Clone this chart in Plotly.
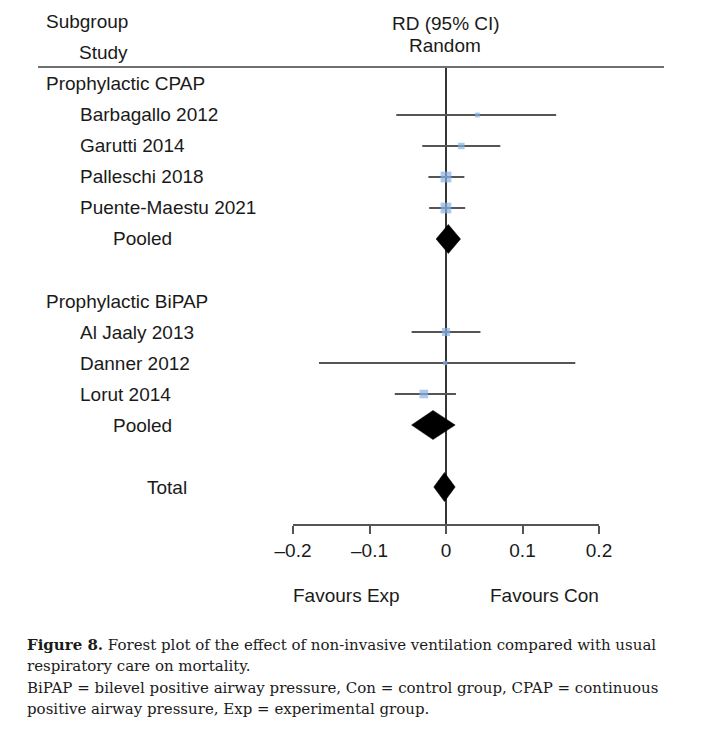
import plotly.graph_objects as go

# ---------------- data ----------------
group_labels = ["Prophylactic CPAP", "Prophylactic BiPAP"]
group_studies = [
    ["Barbagallo 2012", "Garutti 2014", "Palleschi 2018", "Puente-Maestu 2021"],
    ["Al Jaaly 2013", "Danner 2012", "Lorut 2014"],
]
study_rd = [[0.041, 0.020, 0.000, 0.000], [0.000, -0.001, -0.029]]
study_lo = [[-0.065, -0.031, -0.023, -0.022], [-0.045, -0.166, -0.067]]
study_hi = [[0.144, 0.071, 0.024, 0.025], [0.045, 0.169, 0.013]]
study_weight = [[4.5, 8, 22, 22], [12.5, 3.5, 14]]

pooled_rd = [0.003, -0.017]
pooled_lo = [-0.013, -0.045]
pooled_hi = [0.019, 0.012]

total_label = "Total"
total_rd = -0.002
total_lo = -0.016
total_hi = 0.012

tick_vals = [-0.2, -0.1, 0, 0.1, 0.2]
tick_text = ["\u20130.2", "\u20130.1", "0", "0.1", "0.2"]

# ---------------- layout helpers ----------------
W, H = 720, 742
FONT = "Liberation Sans, Arial, sans-serif"
TXT = "#1a1a1a"


def px(x):
    return x / W


def py(y):
    return 1 - y / H


# build rows
rows = []  # (label, kind, group index, item index, row)
r = 0
for g, glabel in enumerate(group_labels):
    rows.append((glabel, "group", g, None, r)); r += 1
    for i, s in enumerate(group_studies[g]):
        rows.append((s, "study", g, i, r)); r += 1
    rows.append(("Pooled", "pooled", g, None, r)); r += 1
    r += 1  # blank row
rows.append((total_label, "total", None, None, r))

fig = go.Figure()

# study points with CIs
xs, ys, ep, em, sizes = [], [], [], [], []
for label, kind, g, i, row in rows:
    if kind == "study":
        e = study_rd[g][i]
        xs.append(e)
        ys.append(row)
        ep.append(study_hi[g][i] - e)
        em.append(e - study_lo[g][i])
        sizes.append(2.3 * study_weight[g][i] ** 0.5)

fig.add_trace(go.Scatter(
    x=xs, y=ys, mode="markers",
    marker=dict(symbol="square", size=sizes, color="#88b2e6", line=dict(width=0)),
    error_x=dict(type="data", symmetric=False, array=ep, arrayminus=em,
                 thickness=1.9, width=0, color="#555555"),
    hoverinfo="skip", showlegend=False,
))

# diamonds
HALF = 0.47


def diamond(est, lo, hi, row, half):
    fig.add_trace(go.Scatter(
        x=[lo, est, hi, est, lo], y=[row, row - half, row, row + half, row],
        mode="lines", fill="toself", fillcolor="black",
        line=dict(width=0.5, color="black"), hoverinfo="skip", showlegend=False,
    ))


for label, kind, g, i, row in rows:
    if kind == "pooled":
        diamond(pooled_rd[g], pooled_lo[g], pooled_hi[g], row, HALF)
    elif kind == "total":
        diamond(total_rd, total_lo, total_hi, row, HALF)

# text labels
indent = {"group": 44, "study": 78, "pooled": 111, "total": 145}
annotations = []
for label, kind, g, i, row in rows:
    annotations.append(dict(
        x=px(indent[kind]), xref="paper", y=row, yref="y",
        text=label, showarrow=False, xanchor="left", yanchor="middle",
        font=dict(family=FONT, size=19, color=TXT),
    ))

# headers
for text, x, y, anchor in [("Subgroup", 44, 22, "left"), ("Study", 77, 52, "left"),
                           ("RD (95% CI)", 446, 23, "center"), ("Random", 445, 46, "center")]:
    annotations.append(dict(x=px(x), xref="paper", y=py(y), yref="paper", text=text,
                            showarrow=False, xanchor=anchor, yanchor="middle",
                            font=dict(family=FONT, size=19, color=TXT)))

# favours
for text, x in [("Favours Exp", 346), ("Favours Con", 544)]:
    annotations.append(dict(x=px(x), xref="paper", y=py(595), yref="paper", text=text,
                            showarrow=False, xanchor="center", yanchor="middle",
                            font=dict(family=FONT, size=19, color=TXT)))

# caption
CAP = "DejaVu Serif, serif"
cap_lines = [
    "<b>Figure 8.</b> Forest plot of the effect of non-invasive ventilation compared with usual",
    "respiratory care on mortality.",
    "BiPAP = bilevel positive airway pressure, Con = control group, CPAP = continuous",
    "positive airway pressure, Exp = experimental group.",
]
for k, line in enumerate(cap_lines):
    annotations.append(dict(x=px(25), xref="paper", y=py(645 + 21.3 * k), yref="paper",
                            text=line, showarrow=False, xanchor="left", yanchor="middle",
                            font=dict(family=CAP, size=15, color=TXT)))

ytop, ybot = 67, 524
row_top = (ytop - 84) / 31.0
row_bot = (ybot - 84) / 31.0

fig.update_layout(
    width=W, height=H, autosize=False, margin=dict(l=0, r=0, t=0, b=0, autoexpand=False),
    paper_bgcolor="white", plot_bgcolor="white",
    annotations=annotations,
    xaxis=dict(domain=[px(293), px(599)], range=[-0.2, 0.2], showgrid=False, zeroline=False,
               showline=True, linecolor="#555555", linewidth=2,
               ticks="outside", ticklen=8, tickwidth=2, tickcolor="#555555",
               tickvals=tick_vals, ticktext=tick_text, automargin=False,
               tickfont=dict(family=FONT, size=19, color=TXT), fixedrange=True),
    yaxis=dict(domain=[py(ybot), py(ytop)], range=[row_bot, row_top], visible=False,
               fixedrange=True, automargin=False),
    shapes=[
        dict(type="line", xref="x", x0=0, x1=0, yref="y domain", y0=0, y1=1,
             line=dict(color="#111111", width=1.7), layer="below"),
        dict(type="line", xref="paper", x0=px(38), x1=px(664), yref="paper",
             y0=py(ytop), y1=py(ytop), line=dict(color="#707070", width=2)),
    ],
    showlegend=False,
)

fig.write_html(
    "out.html",
    config={"responsive": False, "displayModeBar": False},
    post_script="document.body.style.margin='0px';document.body.style.overflow='hidden';",
)
